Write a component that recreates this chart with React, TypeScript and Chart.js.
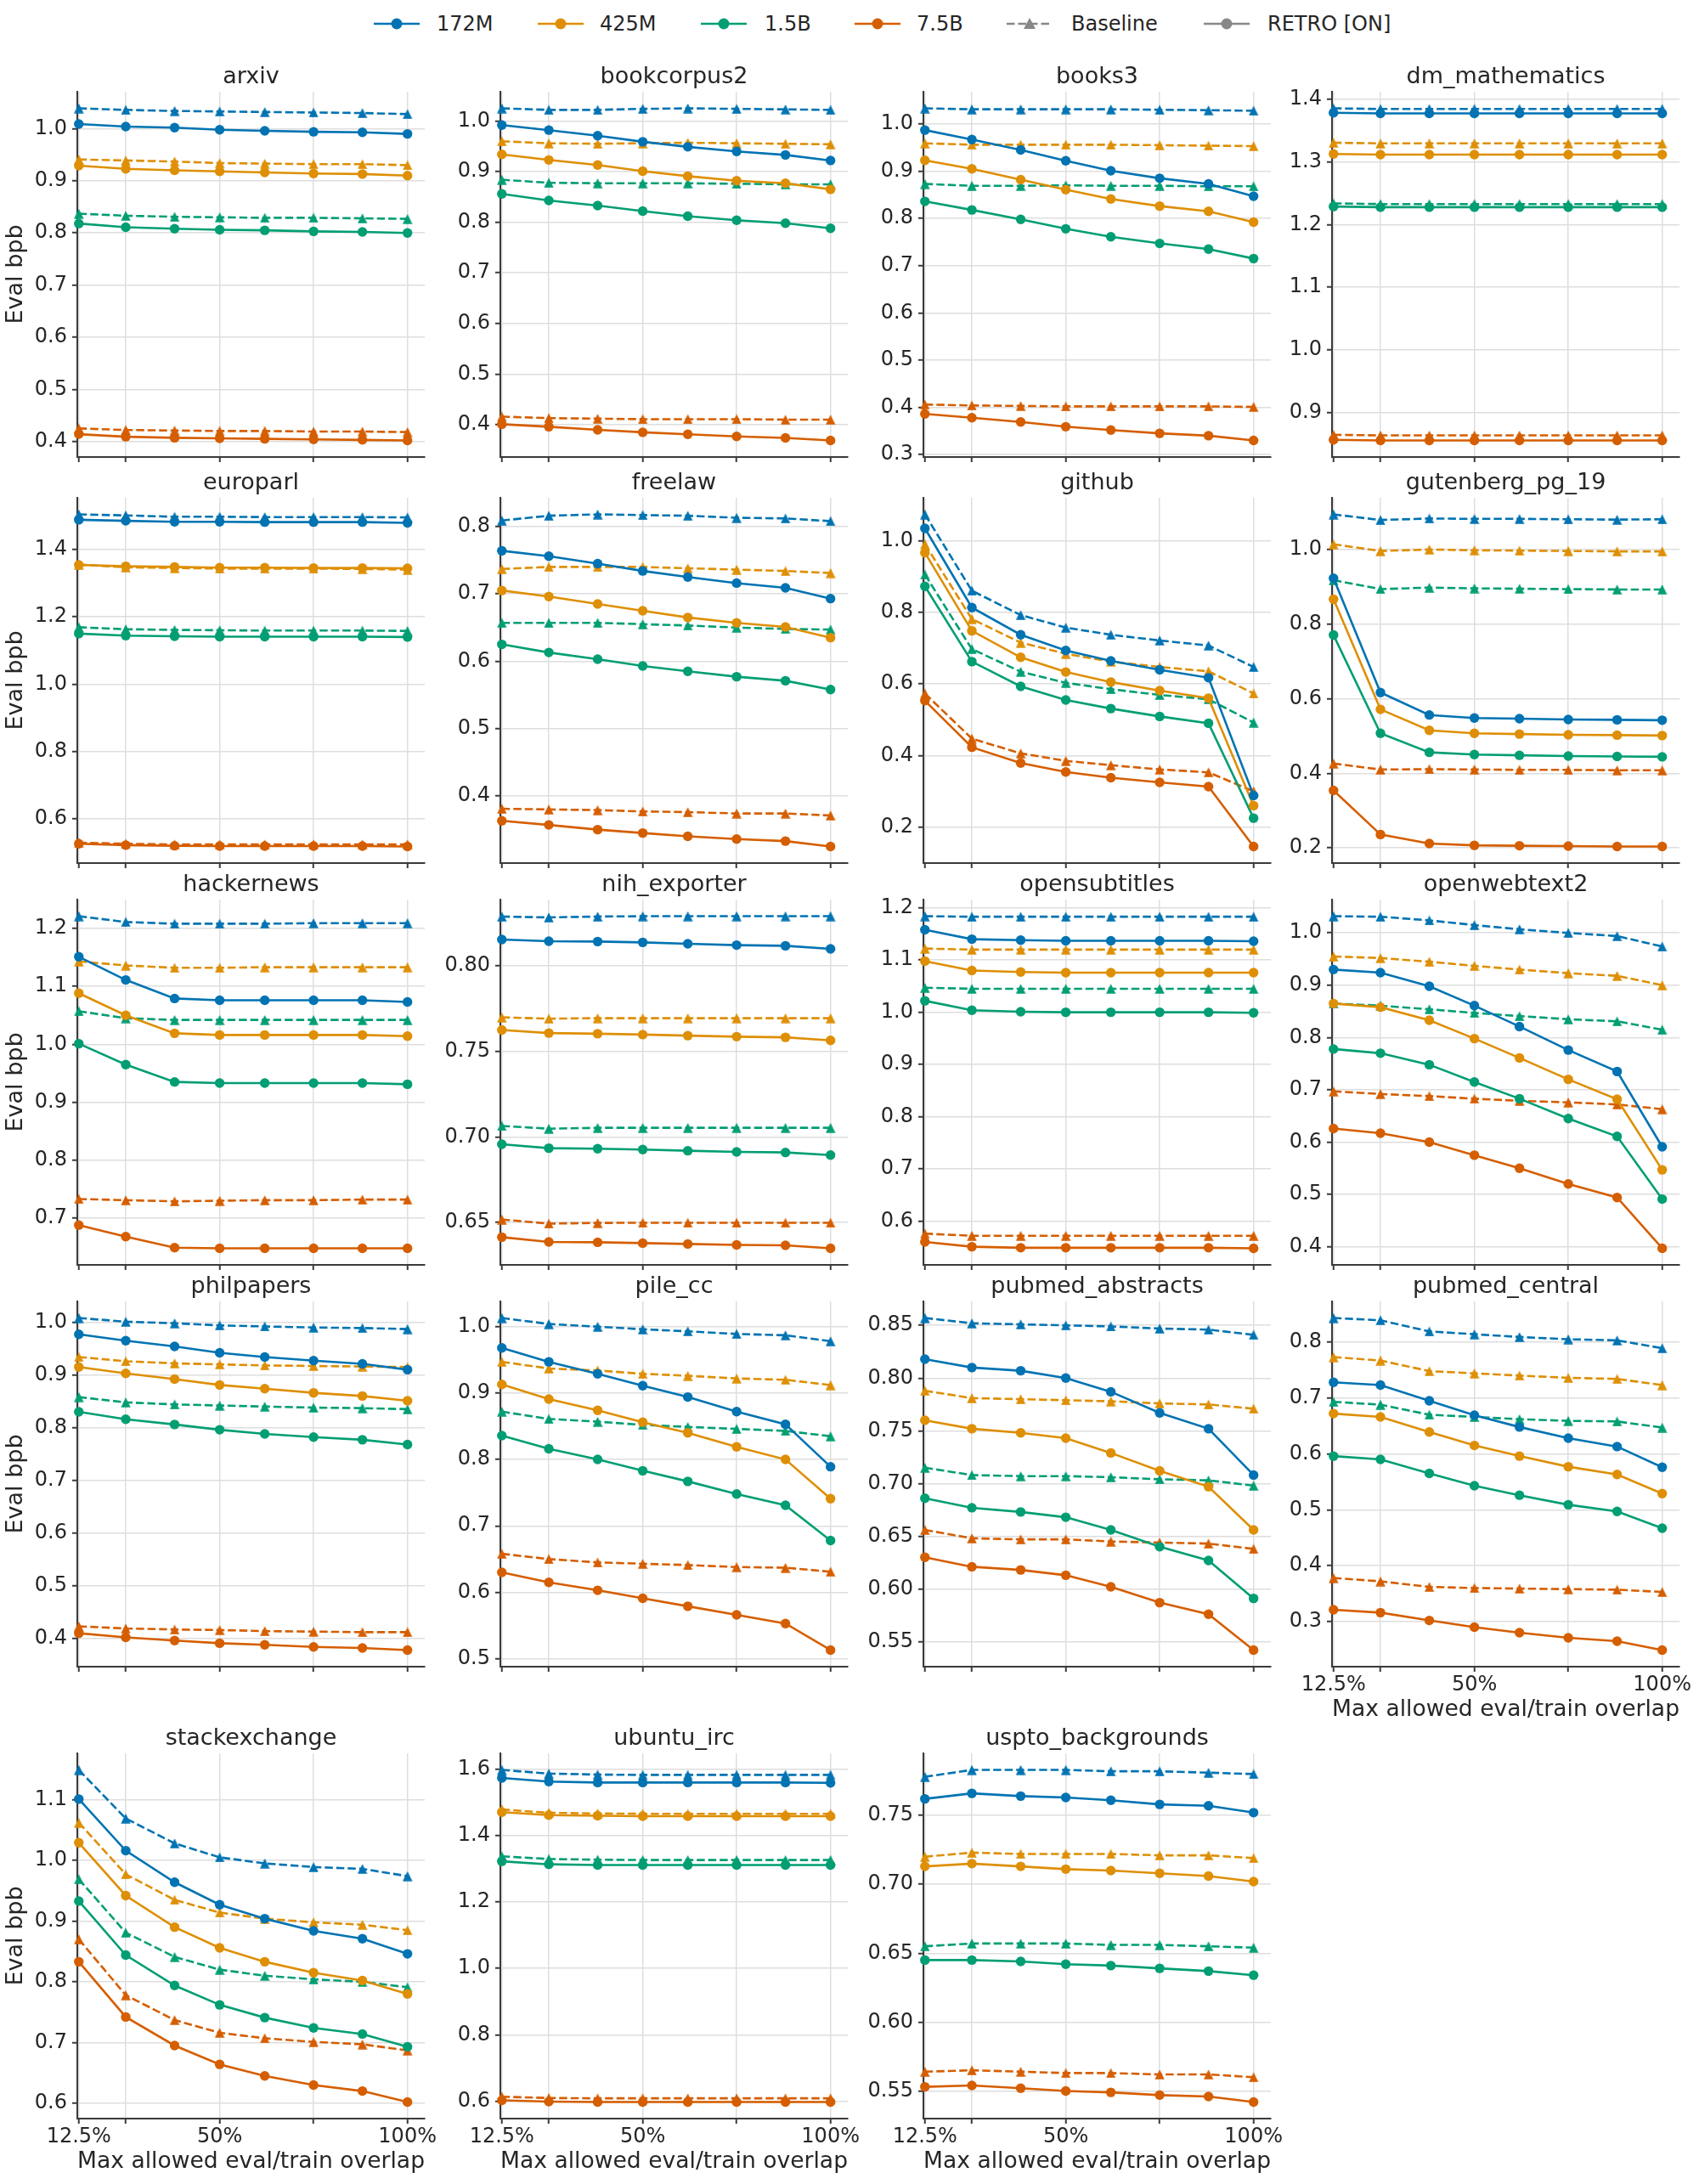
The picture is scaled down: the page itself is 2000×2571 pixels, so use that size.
import React, { useEffect, useRef } from "react";
import { Chart, registerables } from "chart.js";

Chart.register(...registerables);

// x positions of the measured points (max allowed overlap, %)
const overlapPct = [12.5, 25, 38, 50, 62, 75, 88, 100];
const xTickValues = [12.5, 25, 50, 75, 100];
const xTickLabels = ["12.5%", "", "50%", "", "100%"];

const modelSizes = ["172M", "425M", "1.5B", "7.5B"];
const sizeColors = ["#0173b2", "#de8f05", "#029e73", "#d55e00"];

// each block: rows are 172M, 425M, 1.5B, 7.5B
const arxivBaseline = [
  [1.039, 1.036, 1.034, 1.033, 1.032, 1.031, 1.03, 1.028],
  [0.941, 0.939, 0.937, 0.934, 0.933, 0.932, 0.932, 0.93],
  [0.837, 0.833, 0.831, 0.83, 0.829, 0.829, 0.828, 0.827],
  [0.425, 0.422, 0.421, 0.42, 0.42, 0.419, 0.419, 0.418],
];
const arxivRetro = [
  [1.009, 1.004, 1.002, 0.998, 0.996, 0.994, 0.993, 0.99],
  [0.929, 0.923, 0.92, 0.918, 0.916, 0.914, 0.913, 0.91],
  [0.818, 0.811, 0.808, 0.806, 0.805, 0.803, 0.802, 0.8],
  [0.414, 0.409, 0.407, 0.406, 0.405, 0.404, 0.403, 0.402],
];

const bookcorpus2Baseline = [
  [1.025, 1.022, 1.022, 1.024, 1.025, 1.024, 1.023, 1.022],
  [0.96, 0.956, 0.955, 0.956, 0.957, 0.956, 0.955, 0.954],
  [0.884, 0.878, 0.877, 0.877, 0.877, 0.876, 0.875, 0.875],
  [0.416, 0.413, 0.412, 0.411, 0.411, 0.411, 0.41, 0.41],
];
const bookcorpus2Retro = [
  [0.992, 0.982, 0.971, 0.959, 0.949, 0.94, 0.933, 0.922],
  [0.934, 0.923, 0.913, 0.901, 0.891, 0.882, 0.877, 0.865],
  [0.856, 0.843, 0.833, 0.822, 0.812, 0.804, 0.798, 0.788],
  [0.401, 0.396, 0.39, 0.385, 0.381, 0.377, 0.374, 0.369],
];

const books3Baseline = [
  [1.033, 1.031, 1.031, 1.031, 1.031, 1.03, 1.029, 1.028],
  [0.959, 0.956, 0.956, 0.956, 0.956, 0.955, 0.954, 0.953],
  [0.873, 0.869, 0.869, 0.87, 0.869, 0.869, 0.868, 0.868],
  [0.406, 0.404, 0.403, 0.402, 0.402, 0.402, 0.402, 0.401],
];
const books3Retro = [
  [0.987, 0.967, 0.945, 0.922, 0.901, 0.885, 0.873, 0.847],
  [0.923, 0.905, 0.882, 0.861, 0.841, 0.826, 0.815, 0.792],
  [0.836, 0.818, 0.798, 0.778, 0.761, 0.747, 0.735, 0.715],
  [0.386, 0.378, 0.369, 0.359, 0.352, 0.345, 0.34, 0.33],
];

const dmMathBaseline = [
  [1.386, 1.385, 1.385, 1.385, 1.385, 1.385, 1.385, 1.385],
  [1.331, 1.33, 1.33, 1.33, 1.33, 1.33, 1.33, 1.33],
  [1.234, 1.233, 1.233, 1.233, 1.233, 1.233, 1.233, 1.233],
  [0.864, 0.863, 0.863, 0.863, 0.863, 0.863, 0.863, 0.863],
];
const dmMathRetro = [
  [1.379, 1.378, 1.378, 1.378, 1.378, 1.378, 1.378, 1.378],
  [1.313, 1.312, 1.312, 1.312, 1.312, 1.312, 1.312, 1.312],
  [1.229, 1.228, 1.228, 1.228, 1.228, 1.228, 1.228, 1.228],
  [0.856, 0.855, 0.855, 0.855, 0.855, 0.855, 0.855, 0.855],
];

const europarlBaseline = [
  [1.504, 1.501, 1.497, 1.497, 1.496, 1.496, 1.496, 1.495],
  [1.355, 1.347, 1.345, 1.343, 1.343, 1.343, 1.342, 1.34],
  [1.169, 1.163, 1.161, 1.16, 1.159, 1.159, 1.159, 1.158],
  [0.529, 0.526, 0.524, 0.524, 0.524, 0.524, 0.524, 0.524],
];
const europarlRetro = [
  [1.488, 1.485, 1.482, 1.482, 1.481, 1.481, 1.481, 1.479],
  [1.354, 1.35, 1.348, 1.346, 1.346, 1.345, 1.345, 1.344],
  [1.15, 1.144, 1.142, 1.141, 1.141, 1.141, 1.141, 1.14],
  [0.526, 0.522, 0.52, 0.519, 0.519, 0.519, 0.519, 0.518],
];

const freelawBaseline = [
  [0.809, 0.816, 0.818, 0.817, 0.816, 0.813, 0.812, 0.808],
  [0.737, 0.74, 0.74, 0.74, 0.738, 0.736, 0.734, 0.731],
  [0.657, 0.657, 0.657, 0.655, 0.653, 0.65, 0.648, 0.647],
  [0.381, 0.38, 0.379, 0.377, 0.376, 0.374, 0.374, 0.371],
];
const freelawRetro = [
  [0.764, 0.756, 0.745, 0.734, 0.725, 0.716, 0.709, 0.693],
  [0.705, 0.696, 0.685, 0.675, 0.665, 0.657, 0.651, 0.635],
  [0.625, 0.613, 0.603, 0.593, 0.585, 0.577, 0.571, 0.558],
  [0.363, 0.357, 0.35, 0.345, 0.34, 0.336, 0.333, 0.325],
];

const githubBaseline = [
  [1.073, 0.86, 0.792, 0.757, 0.737, 0.721, 0.707, 0.647],
  [0.99, 0.781, 0.715, 0.684, 0.662, 0.647, 0.635, 0.573],
  [0.905, 0.697, 0.634, 0.603, 0.585, 0.569, 0.557, 0.492],
  [0.573, 0.447, 0.406, 0.385, 0.373, 0.361, 0.353, 0.3],
];
const githubRetro = [
  [1.034, 0.813, 0.737, 0.693, 0.664, 0.639, 0.617, 0.288],
  [0.966, 0.748, 0.674, 0.633, 0.605, 0.581, 0.56, 0.26],
  [0.872, 0.662, 0.593, 0.555, 0.531, 0.509, 0.49, 0.225],
  [0.553, 0.423, 0.379, 0.354, 0.338, 0.325, 0.313, 0.146],
];

const gutenbergBaseline = [
  [1.093, 1.078, 1.082, 1.081, 1.081, 1.08, 1.079, 1.08],
  [1.013, 0.995, 0.999, 0.997, 0.996, 0.995, 0.994, 0.994],
  [0.917, 0.893, 0.897, 0.895, 0.894, 0.893, 0.892, 0.892],
  [0.426, 0.41, 0.411, 0.41, 0.409, 0.409, 0.408, 0.408],
];
const gutenbergRetro = [
  [0.922, 0.616, 0.556, 0.548, 0.546, 0.544, 0.543, 0.542],
  [0.866, 0.571, 0.515, 0.507, 0.505, 0.503, 0.502, 0.501],
  [0.77, 0.507, 0.456, 0.45, 0.448, 0.446, 0.445, 0.444],
  [0.354, 0.236, 0.212, 0.207, 0.206, 0.205, 0.204, 0.204],
];

const hackernewsBaseline = [
  [1.221, 1.211, 1.208, 1.208, 1.208, 1.209, 1.209, 1.209],
  [1.143, 1.136, 1.132, 1.132, 1.133, 1.133, 1.133, 1.133],
  [1.057, 1.045, 1.042, 1.042, 1.042, 1.042, 1.042, 1.042],
  [0.733, 0.731, 0.729, 0.73, 0.731, 0.731, 0.732, 0.732],
];
const hackernewsRetro = [
  [1.151, 1.111, 1.079, 1.076, 1.076, 1.076, 1.076, 1.073],
  [1.088, 1.05, 1.019, 1.016, 1.016, 1.016, 1.016, 1.014],
  [1.001, 0.965, 0.935, 0.933, 0.933, 0.933, 0.933, 0.931],
  [0.688, 0.668, 0.649, 0.648, 0.648, 0.648, 0.648, 0.648],
];

const nihBaseline = [
  [0.8288, 0.8283, 0.8288, 0.829, 0.829, 0.829, 0.829, 0.829],
  [0.7699, 0.7691, 0.7694, 0.7694, 0.7694, 0.7694, 0.7694, 0.7694],
  [0.7064, 0.7048, 0.7053, 0.7053, 0.7053, 0.7053, 0.7053, 0.7053],
  [0.6517, 0.6493, 0.6497, 0.6498, 0.6498, 0.6498, 0.6498, 0.6498],
];
const nihRetro = [
  [0.8154, 0.8144, 0.8142, 0.8137, 0.8129, 0.8121, 0.8117, 0.8099],
  [0.7625, 0.7607, 0.7603, 0.7598, 0.7592, 0.7586, 0.7582, 0.7564],
  [0.6957, 0.6934, 0.6931, 0.6926, 0.6919, 0.6912, 0.6909, 0.6894],
  [0.6414, 0.6386, 0.6384, 0.6379, 0.6374, 0.6369, 0.6366, 0.6349],
];

const opensubtitlesBaseline = [
  [1.184, 1.183, 1.183, 1.183, 1.183, 1.183, 1.183, 1.183],
  [1.122, 1.12, 1.12, 1.12, 1.12, 1.12, 1.12, 1.12],
  [1.047, 1.045, 1.045, 1.045, 1.045, 1.045, 1.045, 1.045],
  [0.576, 0.572, 0.572, 0.572, 0.572, 0.572, 0.572, 0.572],
];
const opensubtitlesRetro = [
  [1.158, 1.14, 1.138, 1.137, 1.137, 1.137, 1.137, 1.136],
  [1.098, 1.08, 1.077, 1.076, 1.076, 1.076, 1.076, 1.076],
  [1.022, 1.004, 1.001, 1.0, 1.0, 1.0, 1.0, 0.999],
  [0.56, 0.551, 0.549, 0.549, 0.549, 0.549, 0.549, 0.548],
];

const openwebtext2Baseline = [
  [1.032, 1.031, 1.024, 1.015, 1.007, 1.0, 0.994, 0.974],
  [0.955, 0.952, 0.945, 0.937, 0.93, 0.923, 0.918, 0.9],
  [0.865, 0.861, 0.854, 0.847, 0.841, 0.835, 0.831, 0.815],
  [0.697, 0.692, 0.688, 0.683, 0.679, 0.676, 0.672, 0.663],
];
const openwebtext2Retro = [
  [0.93, 0.924, 0.898, 0.861, 0.821, 0.776, 0.735, 0.591],
  [0.865, 0.858, 0.833, 0.798, 0.761, 0.72, 0.682, 0.547],
  [0.778, 0.77, 0.748, 0.715, 0.683, 0.645, 0.611, 0.491],
  [0.626, 0.617, 0.6, 0.575, 0.55, 0.52, 0.494, 0.397],
];

const philpapersBaseline = [
  [1.008, 1.001, 0.998, 0.994, 0.992, 0.99, 0.989, 0.987],
  [0.934, 0.926, 0.922, 0.92, 0.918, 0.917, 0.916, 0.915],
  [0.858, 0.848, 0.844, 0.842, 0.84, 0.838, 0.837, 0.835],
  [0.423, 0.419, 0.417, 0.416, 0.414, 0.413, 0.412, 0.412],
];
const philpapersRetro = [
  [0.977, 0.965, 0.954, 0.942, 0.934, 0.927, 0.921, 0.91],
  [0.915, 0.903, 0.892, 0.881, 0.874, 0.866, 0.86, 0.851],
  [0.83, 0.816, 0.806, 0.796, 0.788, 0.782, 0.777, 0.768],
  [0.41, 0.402, 0.396, 0.391, 0.388, 0.384, 0.382, 0.378],
];

const pileCcBaseline = [
  [1.013, 1.004, 1.0, 0.996, 0.993, 0.989, 0.987, 0.978],
  [0.947, 0.937, 0.934, 0.929, 0.926, 0.922, 0.92, 0.912],
  [0.872, 0.861, 0.857, 0.852, 0.849, 0.846, 0.843, 0.835],
  [0.658, 0.65, 0.645, 0.643, 0.641, 0.638, 0.637, 0.631],
];
const pileCcRetro = [
  [0.968, 0.947, 0.929, 0.911, 0.894, 0.872, 0.853, 0.789],
  [0.913, 0.891, 0.874, 0.856, 0.84, 0.819, 0.8, 0.741],
  [0.836, 0.816, 0.8, 0.783, 0.767, 0.748, 0.731, 0.678],
  [0.63, 0.615, 0.603, 0.591, 0.579, 0.566, 0.553, 0.513],
];

const pubmedAbstractsBaseline = [
  [0.857, 0.852, 0.851, 0.85, 0.849, 0.847, 0.846, 0.841],
  [0.788, 0.781, 0.78, 0.779, 0.778, 0.776, 0.775, 0.771],
  [0.715, 0.708, 0.707, 0.707, 0.706, 0.704, 0.703, 0.698],
  [0.656, 0.648, 0.647, 0.647, 0.645, 0.644, 0.643, 0.638],
];
const pubmedAbstractsRetro = [
  [0.818, 0.81, 0.807, 0.8, 0.787, 0.767, 0.752, 0.708],
  [0.76, 0.752, 0.748, 0.743, 0.729, 0.712, 0.697, 0.656],
  [0.686, 0.677, 0.673, 0.668, 0.656, 0.64, 0.627, 0.591],
  [0.63, 0.621, 0.618, 0.613, 0.602, 0.587, 0.576, 0.542],
];

const pubmedCentralBaseline = [
  [0.843, 0.839, 0.819, 0.814, 0.809, 0.805, 0.803, 0.789],
  [0.773, 0.767, 0.748, 0.744, 0.74, 0.736, 0.734, 0.723],
  [0.693, 0.688, 0.67, 0.666, 0.662, 0.659, 0.658, 0.647],
  [0.378, 0.372, 0.362, 0.36, 0.359, 0.358, 0.357, 0.353],
];
const pubmedCentralRetro = [
  [0.728, 0.723, 0.695, 0.669, 0.648, 0.628, 0.613, 0.576],
  [0.672, 0.666, 0.639, 0.615, 0.596, 0.577, 0.563, 0.529],
  [0.596, 0.59, 0.565, 0.543, 0.526, 0.509, 0.497, 0.467],
  [0.321, 0.316, 0.302, 0.29, 0.28, 0.271, 0.265, 0.249],
];

const stackexchangeBaseline = [
  [1.149, 1.069, 1.028, 1.005, 0.995, 0.989, 0.986, 0.974],
  [1.062, 0.977, 0.935, 0.914, 0.904, 0.898, 0.894, 0.885],
  [0.969, 0.881, 0.841, 0.82, 0.81, 0.804, 0.8, 0.791],
  [0.87, 0.778, 0.737, 0.716, 0.707, 0.701, 0.697, 0.687],
];
const stackexchangeRetro = [
  [1.101, 1.016, 0.964, 0.927, 0.904, 0.884, 0.871, 0.846],
  [1.029, 0.942, 0.89, 0.856, 0.833, 0.815, 0.802, 0.78],
  [0.933, 0.844, 0.794, 0.762, 0.741, 0.724, 0.714, 0.693],
  [0.833, 0.742, 0.695, 0.664, 0.645, 0.63, 0.62, 0.602],
];

const ubuntuIrcBaseline = [
  [1.597, 1.586, 1.583, 1.582, 1.582, 1.582, 1.582, 1.582],
  [1.478, 1.468, 1.466, 1.465, 1.465, 1.465, 1.465, 1.465],
  [1.337, 1.329, 1.327, 1.326, 1.326, 1.326, 1.326, 1.326],
  [0.614, 0.61, 0.609, 0.609, 0.609, 0.609, 0.609, 0.609],
];
const ubuntuIrcRetro = [
  [1.573, 1.562, 1.559, 1.559, 1.559, 1.559, 1.559, 1.558],
  [1.47, 1.461, 1.459, 1.458, 1.458, 1.458, 1.458, 1.458],
  [1.322, 1.313, 1.311, 1.311, 1.311, 1.311, 1.311, 1.311],
  [0.603, 0.599, 0.598, 0.598, 0.598, 0.598, 0.598, 0.598],
];

const usptoBaseline = [
  [0.778, 0.783, 0.783, 0.783, 0.782, 0.782, 0.781, 0.78],
  [0.72, 0.723, 0.722, 0.722, 0.722, 0.721, 0.721, 0.719],
  [0.655, 0.657, 0.657, 0.657, 0.656, 0.656, 0.655, 0.654],
  [0.564, 0.565, 0.564, 0.563, 0.563, 0.562, 0.562, 0.56],
];
const usptoRetro = [
  [0.762, 0.766, 0.764, 0.763, 0.761, 0.758, 0.757, 0.752],
  [0.713, 0.715, 0.713, 0.711, 0.71, 0.708, 0.706, 0.702],
  [0.645, 0.645, 0.644, 0.642, 0.641, 0.639, 0.637, 0.634],
  [0.553, 0.554, 0.552, 0.55, 0.549, 0.547, 0.546, 0.542],
];

const panelNames = [
  "arxiv", "bookcorpus2", "books3", "dm_mathematics",
  "europarl", "freelaw", "github", "gutenberg_pg_19",
  "hackernews", "nih_exporter", "opensubtitles", "openwebtext2",
  "philpapers", "pile_cc", "pubmed_abstracts", "pubmed_central",
  "stackexchange", "ubuntu_irc", "uspto_backgrounds",
];
const baselineByPanel = [
  arxivBaseline, bookcorpus2Baseline, books3Baseline, dmMathBaseline,
  europarlBaseline, freelawBaseline, githubBaseline, gutenbergBaseline,
  hackernewsBaseline, nihBaseline, opensubtitlesBaseline, openwebtext2Baseline,
  philpapersBaseline, pileCcBaseline, pubmedAbstractsBaseline, pubmedCentralBaseline,
  stackexchangeBaseline, ubuntuIrcBaseline, usptoBaseline,
];
const retroByPanel = [
  arxivRetro, bookcorpus2Retro, books3Retro, dmMathRetro,
  europarlRetro, freelawRetro, githubRetro, gutenbergRetro,
  hackernewsRetro, nihRetro, opensubtitlesRetro, openwebtext2Retro,
  philpapersRetro, pileCcRetro, pubmedAbstractsRetro, pubmedCentralRetro,
  stackexchangeRetro, ubuntuIrcRetro, usptoRetro,
];
const yTickStep = [
  0.1, 0.1, 0.1, 0.1,
  0.2, 0.1, 0.2, 0.2,
  0.1, 0.05, 0.1, 0.1,
  0.1, 0.1, 0.05, 0.1,
  0.1, 0.2, 0.05,
];
// panels that carry x tick labels + x title
const bottomPanels = [15, 16, 17, 18];

// layout (page pixels)
const plotLefts = [91, 589, 1087, 1568];
const plotTops = [108, 586, 1059, 1532, 2064];
const PLOT_W = 409;
const PLOT_H = 430;
const TITLE_H = 34;
const RIGHT_PAD = 30;

const FONT = "'DejaVu Sans', 'Liberation Sans', sans-serif";
const TEXT = "#262626";
const SPINE = "#3a3a3a";
const GRID = "#dedede";
const LEGEND_GRAY = "#888888";

const legendHandleX = [467, 660, 852, 1033, 1212, 1444];
const legendTextX = [514, 706, 900, 1079, 1261, 1492];

function makeTriangle(color: string, size = 12): HTMLCanvasElement {
  const c = document.createElement("canvas");
  c.width = size;
  c.height = size;
  const g = c.getContext("2d");
  if (g) {
    g.fillStyle = color;
    g.beginPath();
    g.moveTo(size / 2, 0.3);
    g.lineTo(size - 0.3, size - 0.3);
    g.lineTo(0.3, size - 0.3);
    g.closePath();
    g.fill();
  }
  return c;
}

const Panel: React.FC<{ index: number }> = ({ index }) => {
  const chartRef = useRef<HTMLCanvasElement | null>(null);
  const col = index % 4;
  const row = Math.floor(index / 4);
  const isBottom = bottomPanels.includes(index);
  const hasYTitle = col === 0;
  const yw = hasYTitle ? 91 : 80;
  const xh = isBottom ? 67 : 24;
  const width = yw + PLOT_W + RIGHT_PAD;
  const height = TITLE_H + PLOT_H + xh;

  useEffect(() => {
    if (!chartRef.current) return;
    const ctx = chartRef.current.getContext("2d");
    if (!ctx) return;

    const base = baselineByPanel[index];
    const retro = retroByPanel[index];
    const all = [...base.flat(), ...retro.flat()];
    const lo = Math.min(...all);
    const hi = Math.max(...all);
    const margin = (hi - lo) * 0.05;
    const yMin = lo - margin;
    const yMax = hi + margin;
    const step = yTickStep[index];
    const decimals = step < 0.1 ? 2 : 1;

    const datasets: any[] = [];
    modelSizes.forEach((size, s) => {
      const color = sizeColors[s];
      datasets.push({
        label: `${size} baseline`,
        data: overlapPct.map((x, i) => ({ x, y: base[s][i] })),
        borderColor: color,
        backgroundColor: color,
        borderWidth: 2.6,
        borderDash: [9.5, 4],
        pointStyle: makeTriangle(color),
        pointRadius: 6,
        pointBorderWidth: 0,
        pointBackgroundColor: color,
        tension: 0,
        clip: false,
      });
      datasets.push({
        label: `${size} RETRO`,
        data: overlapPct.map((x, i) => ({ x, y: retro[s][i] })),
        borderColor: color,
        backgroundColor: color,
        borderWidth: 2.6,
        pointStyle: "circle",
        pointRadius: 5.7,
        pointBorderWidth: 0,
        pointBackgroundColor: color,
        tension: 0,
        clip: false,
      });
    });

    const chart = new Chart(ctx, {
      type: "line",
      data: { datasets },
      options: {
        animation: false,
        responsive: false,
        events: [],
        layout: { padding: { left: 0, right: RIGHT_PAD, top: 0, bottom: 0 } },
        plugins: {
          legend: { display: false },
          tooltip: { enabled: false },
          title: {
            display: true,
            text: panelNames[index],
            color: TEXT,
            fullSize: false,
            font: { family: FONT, size: 27, weight: "normal", lineHeight: 1.2 },
            padding: { top: 0.6, bottom: 1 },
          },
        },
        scales: {
          x: {
            type: "linear",
            min: 12.1,
            max: 104.6,
            afterBuildTicks: (axis: any) => {
              axis.ticks = xTickValues.map((v) => ({ value: v }));
            },
            afterFit: (axis: any) => {
              axis.height = xh;
            },
            grid: {
              color: GRID,
              lineWidth: 1.5,
              drawTicks: true,
              tickLength: 6,
              tickColor: SPINE,
              tickWidth: 2,
            },
            border: { display: true, color: SPINE, width: 2 },
            ticks: {
              display: isBottom,
              color: TEXT,
              font: { family: FONT, size: 24 },
              padding: 1,
              maxRotation: 0,
              minRotation: 0,
              autoSkip: false,
              callback: (value: any) => {
                const i = xTickValues.indexOf(Number(value));
                return i >= 0 ? xTickLabels[i] : "";
              },
            },
            title: {
              display: isBottom,
              text: "Max allowed eval/train overlap",
              color: TEXT,
              font: { family: FONT, size: 27, lineHeight: 1.2 },
              padding: 0,
            },
          },
          y: {
            type: "linear",
            min: yMin,
            max: yMax,
            afterBuildTicks: (axis: any) => {
              const ticks = [];
              for (let k = Math.ceil(yMin / step - 1e-9); k * step <= yMax + 1e-9; k++) {
                ticks.push({ value: Number((k * step).toFixed(4)) });
              }
              axis.ticks = ticks;
            },
            afterFit: (axis: any) => {
              axis.width = yw;
            },
            grid: {
              color: GRID,
              lineWidth: 1.5,
              drawTicks: true,
              tickLength: 6,
              tickColor: SPINE,
              tickWidth: 2,
            },
            border: { display: true, color: SPINE, width: 2 },
            ticks: {
              color: TEXT,
              font: { family: FONT, size: 24 },
              padding: 6,
              callback: (value: any) => Number(value).toFixed(decimals),
            },
            title: {
              display: hasYTitle,
              text: "Eval bpb",
              color: TEXT,
              font: { family: FONT, size: 27, lineHeight: 1.2 },
              padding: { top: 3, bottom: 0 },
            },
          },
        },
      } as any,
    });

    return () => {
      chart.destroy();
    };
  }, [index]);

  return (
    <canvas
      ref={chartRef}
      width={width}
      height={height}
      style={{
        position: "absolute",
        left: plotLefts[col] - yw,
        top: plotTops[row] - TITLE_H,
        width,
        height,
      }}
    />
  );
};

const LegendHandle: React.FC<{ color: string; dashed: boolean; marker: "circle" | "triangle" }> = ({
  color,
  dashed,
  marker,
}) => (
  <svg width={56} height={20} style={{ display: "block" }}>
    <line
      x1={1}
      y1={10}
      x2={55}
      y2={10}
      stroke={color}
      strokeWidth={2.6}
      strokeDasharray={dashed ? "9.5 4" : undefined}
    />
    {marker === "circle" ? (
      <circle cx={28} cy={10} r={6.5} fill={color} />
    ) : (
      <polygon points="28,3 35,16 21,16" fill={color} />
    )}
  </svg>
);

const App: React.FC = () => {
  const legendItems = [
    ...modelSizes.map((label, i) => ({ label, color: sizeColors[i], dashed: false, marker: "circle" as const })),
    { label: "Baseline", color: LEGEND_GRAY, dashed: true, marker: "triangle" as const },
    { label: "RETRO [ON]", color: LEGEND_GRAY, dashed: false, marker: "circle" as const },
  ];

  return (
    <div
      style={{
        position: "absolute",
        left: 0,
        top: 0,
        width: 2000,
        height: 2571,
        background: "#ffffff",
        fontFamily: FONT,
        color: TEXT,
        overflow: "hidden",
      }}
    >
      {legendItems.map((item, i) => (
        <React.Fragment key={item.label}>
          <div style={{ position: "absolute", left: legendHandleX[i] - 28, top: 18 }}>
            <LegendHandle color={item.color} dashed={item.dashed} marker={item.marker} />
          </div>
          <div
            style={{
              position: "absolute",
              left: legendTextX[i],
              top: 16,
              fontSize: 24,
              lineHeight: "24px",
              whiteSpace: "nowrap",
            }}
          >
            {item.label}
          </div>
        </React.Fragment>
      ))}
      {panelNames.map((name, i) => (
        <Panel key={name} index={i} />
      ))}
    </div>
  );
};

export default App;
